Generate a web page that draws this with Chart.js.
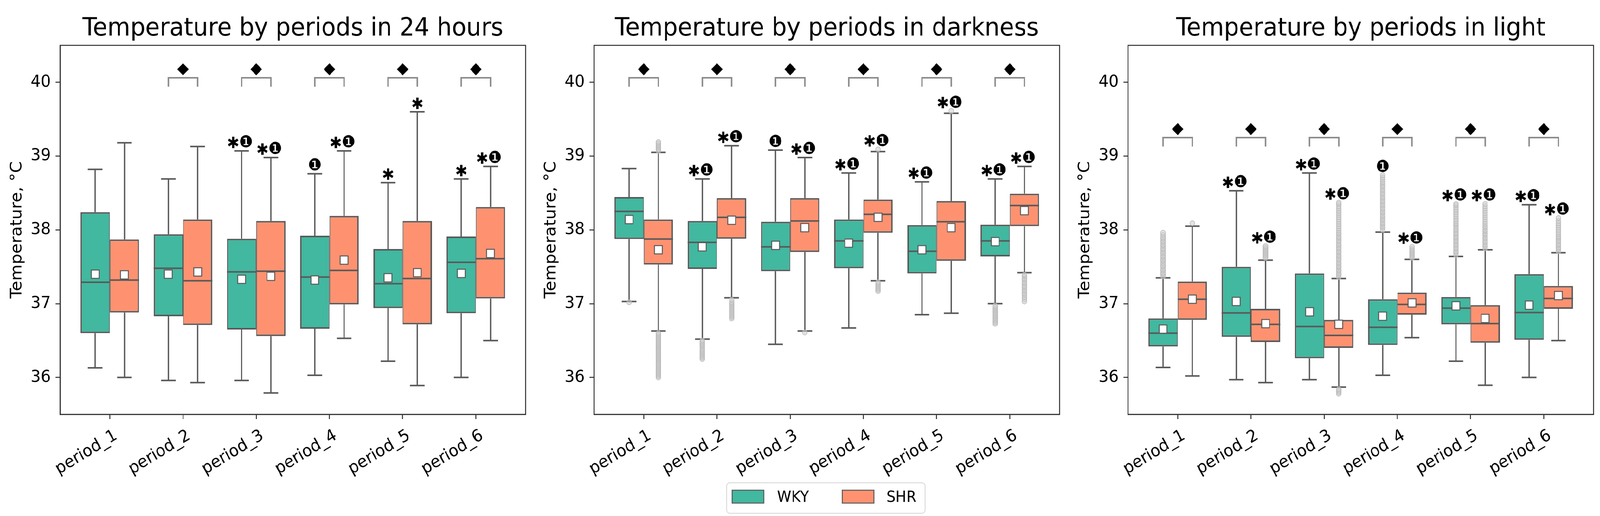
<!DOCTYPE html>
<html><head><meta charset="utf-8">
<script src="https://cdn.jsdelivr.net/npm/chart.js@4.4.1/dist/chart.umd.min.js"></script>
<style>
html,body{margin:0;padding:0;background:#fff;overflow:hidden;}
#wrap{position:relative;width:4345px;height:1320px;overflow:hidden;background:#fff;transform-origin:0 0;}
.pc{position:absolute;top:0;width:1445px;height:1320px}
</style></head><body>
<div id="wrap">
<div class="pc" style="left:0px"><canvas id="c1" width="1445" height="1320"></canvas></div>
<div class="pc" style="left:1450px"><canvas id="c2" width="1445" height="1320"></canvas></div>
<div class="pc" style="left:2900px"><canvas id="c3" width="1445" height="1320"></canvas></div>
</div>
<script>
// ---------- data ----------
const categories = ['period_1','period_2','period_3','period_4','period_5','period_6'];
const yTicks = [36, 37, 38, 39, 40];
const groupNames = ['WKY', 'SHR'];
const titles = ['Temperature by periods in 24 hours', 'Temperature by periods in darkness', 'Temperature by periods in light'];

// 24 hours
const h24_wky_low  = [36.13, 35.96, 35.96, 36.03, 36.22, 36.00];
const h24_wky_q1   = [36.60, 36.83, 36.65, 36.66, 36.94, 36.87];
const h24_wky_med  = [37.29, 37.48, 37.43, 37.36, 37.27, 37.56];
const h24_wky_q3   = [38.24, 37.94, 37.88, 37.92, 37.74, 37.91];
const h24_wky_high = [38.82, 38.69, 39.07, 38.76, 38.64, 38.69];
const h24_wky_mean = [37.40, 37.40, 37.33, 37.32, 37.35, 37.41];
const h24_shr_low  = [36.00, 35.93, 35.79, 36.53, 35.89, 36.50];
const h24_shr_q1   = [36.88, 36.71, 36.56, 36.99, 36.72, 37.07];
const h24_shr_med  = [37.32, 37.31, 37.44, 37.45, 37.34, 37.61];
const h24_shr_q3   = [37.87, 38.14, 38.12, 38.19, 38.12, 38.31];
const h24_shr_high = [39.18, 39.13, 38.98, 39.07, 39.60, 38.86];
const h24_shr_mean = [37.39, 37.43, 37.37, 37.59, 37.42, 37.68];
const h24_wky_out  = [[], [], [], [], [], []];
const h24_shr_out  = [[], [], [], [], [], []];
const h24_wky_sig  = ['', '', '✱❶', '❶', '✱', '✱'];
const h24_shr_sig  = ['', '', '✱❶', '✱❶', '✱', '✱❶'];
const h24_diff     = [false, true, true, true, true, true];
const h24_bracket  = 40.06;

// darkness
const dark_wky_low  = [37.03, 36.52, 36.45, 36.67, 36.85, 37.00];
const dark_wky_q1   = [37.875, 37.47, 37.44, 37.48, 37.41, 37.64];
const dark_wky_med  = [38.25, 37.83, 37.77, 37.85, 37.71, 37.85];
const dark_wky_q3   = [38.445, 38.12, 38.11, 38.14, 38.065, 38.07];
const dark_wky_high = [38.83, 38.69, 39.08, 38.77, 38.65, 38.69];
const dark_wky_mean = [38.14, 37.77, 37.79, 37.82, 37.73, 37.84];
const dark_shr_low  = [36.63, 37.08, 36.63, 37.31, 36.87, 37.42];
const dark_shr_q1   = [37.53, 37.88, 37.70, 37.96, 37.58, 38.05];
const dark_shr_med  = [37.875, 38.17, 38.12, 38.21, 38.11, 38.33];
const dark_shr_q3   = [38.14, 38.43, 38.43, 38.41, 38.39, 38.49];
const dark_shr_high = [39.05, 39.14, 38.98, 39.06, 39.58, 38.86];
const dark_shr_mean = [37.73, 38.13, 38.03, 38.17, 38.03, 38.26];
const dark_wky_out  = [
  [37.02],
  [36.25, 36.27, 36.29, 36.31, 36.33, 36.35, 36.37, 36.39, 36.42, 36.44, 36.46, 36.48, 36.50],
  [], [], [],
  [36.73, 36.75, 36.77, 36.79, 36.81, 36.83, 36.85, 36.87, 36.89, 36.91, 36.93, 36.95, 36.97]
];
const dark_shr_out  = [
  [39.07, 39.09, 39.11, 39.13, 39.15, 39.17, 39.19,
   36.00, 36.02, 36.04, 36.06, 36.08, 36.10, 36.12, 36.14, 36.16, 36.18, 36.20, 36.22, 36.24, 36.26, 36.28,
   36.30, 36.32, 36.34, 36.36, 36.38, 36.40, 36.42, 36.44, 36.46, 36.48, 36.50, 36.52, 36.54, 36.56, 36.58, 36.60],
  [36.80, 36.82, 36.84, 36.86, 36.88, 36.90, 36.92, 36.94, 36.96, 36.98, 37.00, 37.02, 37.05],
  [36.61],
  [39.09, 37.17, 37.19, 37.21, 37.23, 37.25, 37.27, 37.29],
  [39.61],
  [37.03, 37.06, 37.09, 37.12, 37.14, 37.17, 37.19, 37.22, 37.24, 37.27, 37.29, 37.32, 37.34, 37.37, 37.39]
];
const dark_wky_sig  = ['', '✱❶', '❶', '✱❶', '✱❶', '✱❶'];
const dark_shr_sig  = ['', '✱❶', '✱❶', '✱❶', '✱❶', '✱❶'];
const dark_diff     = [true, true, true, true, true, true];
const dark_bracket  = 40.06;

// light
const light_wky_low  = [36.135, 35.97, 35.97, 36.03, 36.22, 36.00];
const light_wky_q1   = [36.42, 36.55, 36.26, 36.44, 36.72, 36.51];
const light_wky_med  = [36.60, 36.875, 36.69, 36.68, 36.94, 36.88];
const light_wky_q3   = [36.80, 37.50, 37.41, 37.06, 37.09, 37.40];
const light_wky_high = [37.35, 38.53, 38.77, 37.97, 37.64, 38.34];
const light_wky_mean = [36.655, 37.03, 36.89, 36.83, 36.97, 36.98];
const light_shr_low  = [36.02, 35.93, 35.87, 36.54, 35.895, 36.50];
const light_shr_q1   = [36.78, 36.48, 36.40, 36.85, 36.47, 36.93];
const light_shr_med  = [37.06, 36.72, 36.57, 36.99, 36.73, 37.07];
const light_shr_q3   = [37.30, 36.93, 36.78, 37.15, 36.98, 37.24];
const light_shr_high = [38.05, 37.59, 37.34, 37.60, 37.73, 37.69];
const light_shr_mean = [37.06, 36.73, 36.72, 37.01, 36.80, 37.11];
const light_wky_out  = [
  [37.37, 37.40, 37.42, 37.45, 37.47, 37.50, 37.52, 37.55, 37.58, 37.60, 37.63, 37.65, 37.68, 37.70,
   37.73, 37.75, 37.78, 37.80, 37.83, 37.85, 37.88, 37.90, 37.93, 37.96],
  [], [],
  [38.00, 38.03, 38.05, 38.08, 38.10, 38.13, 38.15, 38.18, 38.20, 38.23, 38.25, 38.28, 38.30, 38.33, 38.35,
   38.38, 38.40, 38.43, 38.45, 38.48, 38.50, 38.53, 38.55, 38.58, 38.60, 38.63, 38.65, 38.68, 38.71, 38.74],
  [37.66, 37.69, 37.71, 37.74, 37.76, 37.79, 37.81, 37.84, 37.86, 37.89, 37.91, 37.94, 37.96, 37.99,
   38.01, 38.04, 38.07, 38.09, 38.12, 38.15, 38.18, 38.21, 38.24, 38.27, 38.30, 38.33, 38.35],
  []
];
const light_shr_out  = [
  [38.09],
  [37.62, 37.64, 37.66, 37.68, 37.70, 37.72, 37.74, 37.76, 37.78],
  [37.36, 37.39, 37.41, 37.44, 37.46, 37.49, 37.51, 37.54, 37.56, 37.59, 37.61, 37.64, 37.66, 37.69, 37.71,
   37.74, 37.76, 37.79, 37.81, 37.84, 37.86, 37.89, 37.91, 37.94, 37.96, 37.99, 38.02, 38.05, 38.08, 38.11,
   38.14, 38.17, 38.20, 38.23, 38.26, 38.29, 38.32, 38.35, 38.37,
   35.78, 35.80, 35.82, 35.84],
  [37.62, 37.64, 37.66, 37.68, 37.70, 37.72, 37.74, 37.77],
  [37.75, 37.78, 37.80, 37.83, 37.85, 37.88, 37.90, 37.93, 37.95, 37.98, 38.00, 38.03, 38.05, 38.08,
   38.11, 38.14, 38.17, 38.20, 38.23, 38.26, 38.29, 38.32, 38.35],
  [37.71, 37.74, 37.76, 37.79, 37.81, 37.84, 37.86, 37.89, 37.91, 37.94, 37.97, 38.00, 38.03, 38.06, 38.09, 38.12, 38.16]
];
const light_wky_sig  = ['', '✱❶', '✱❶', '❶', '✱❶', '✱❶'];
const light_shr_sig  = ['', '✱❶', '✱❶', '✱❶', '✱❶', '✱❶'];
const light_diff     = [true, true, true, true, true, true];
const light_bracket  = 39.25;

// ---------- fit page to the actual viewport ----------
(function () {
  const w = window.innerWidth || 4345, h = window.innerHeight || 1320;
  const sx = w / 4345, sy = h / 1320;
  if (Math.abs(sx - 1) > 0.002 || Math.abs(sy - 1) > 0.002)
    document.getElementById('wrap').style.transform = 'scale(' + sx + ',' + sy + ')';
})();

// ---------- styles ----------
const FONT = 'DejaVu Sans';
const COLORS = ['#41b89f', '#fe9270'];
const EDGE = '#595959';
const SPINE = '#2b2b2b';
const BRACKET = '#8c8c8c';
const groupOffset = [-0.2, 0.2];

Chart.defaults.font.family = FONT;
Chart.defaults.color = '#000';

// draw one glyph with its ink box centred at (cx, cy), ink width ~ targetW
function drawGlyph(ctx, ch, cx, cy, targetW) {
  ctx.font = '40px "' + FONT + '"';
  let m = ctx.measureText(ch);
  let inkW = (m.actualBoundingBoxLeft + m.actualBoundingBoxRight) || 30;
  const size = 40 * targetW / inkW;
  ctx.font = size.toFixed(2) + 'px "' + FONT + '"';
  m = ctx.measureText(ch);
  const l = m.actualBoundingBoxLeft, r = m.actualBoundingBoxRight;
  const a = m.actualBoundingBoxAscent, d = m.actualBoundingBoxDescent;
  ctx.textAlign = 'left'; ctx.textBaseline = 'alphabetic';
  ctx.fillText(ch, cx - (r - l) / 2, cy + (a - d) / 2);
}

function drawSig(ctx, text, cx, py) {
  const STAR_W = 29, ONE_W = 33, GAP = 4;
  const hasStar = text.indexOf('✱') >= 0, hasOne = text.indexOf('❶') >= 0;
  if (hasStar && hasOne) {
    const total = STAR_W + GAP + ONE_W;
    const left = cx - 4.5 - total / 2;
    drawGlyph(ctx, '✱', left + STAR_W / 2, py - 22, STAR_W);
    drawGlyph(ctx, '❶', left + STAR_W + GAP + ONE_W / 2, py - 24, ONE_W);
  } else if (hasStar) {
    drawGlyph(ctx, '✱', cx, py - 22, STAR_W);
  } else if (hasOne) {
    drawGlyph(ctx, '❶', cx, py - 24, ONE_W);
  }
}

const extras = {
  id: 'boxExtras',
  afterDatasetDraw(chart, args) {
    const ds = chart.data.datasets[args.index];
    if (!ds.stats) return;
    const ctx = chart.ctx, ys = chart.scales.y;
    const s = ds.stats;
    const L = (x1, y1, x2, y2) => { ctx.beginPath(); ctx.moveTo(x1, y1); ctx.lineTo(x2, y2); ctx.stroke(); };
    ctx.save();
    ctx.strokeStyle = EDGE;
    args.meta.data.forEach((bar, i) => {
      const cx = bar.x, hw = bar.width / 2;
      const pHi = ys.getPixelForValue(s.high[i]), pLo = ys.getPixelForValue(s.low[i]);
      const pQ1 = ys.getPixelForValue(s.q1[i]), pQ3 = ys.getPixelForValue(s.q3[i]);
      const pMed = ys.getPixelForValue(s.med[i]);
      ctx.lineWidth = 3.5;
      L(cx, pQ3, cx, pHi);
      L(cx, pQ1, cx, pLo);
      ctx.lineWidth = 4;
      L(cx - hw / 2, pHi, cx + hw / 2, pHi);
      L(cx - hw / 2, pLo, cx + hw / 2, pLo);
      L(cx - hw, pMed, cx + hw, pMed);
    });
    ctx.restore();
  },
  afterDraw(chart) {
    const ctx = chart.ctx, ca = chart.chartArea, ys = chart.scales.y;
    const cfg = chart.options.plugins.boxExtras;
    ctx.save();
    // spines
    ctx.strokeStyle = SPINE; ctx.lineWidth = 2.5;
    ctx.strokeRect(ca.left, ca.top, ca.right - ca.left, ca.bottom - ca.top);
    // brackets
    const m0 = chart.getDatasetMeta(0), m1 = chart.getDatasetMeta(1);
    ctx.strokeStyle = BRACKET; ctx.lineWidth = 4; ctx.lineJoin = 'miter';
    cfg.diff.forEach((d, i) => {
      if (!d) return;
      const x1 = m0.data[i].x, x2 = m1.data[i].x;
      const yt = ys.getPixelForValue(cfg.bracket), yb = ys.getPixelForValue(cfg.bracket - 0.12);
      ctx.beginPath(); ctx.moveTo(x1, yb); ctx.lineTo(x1, yt); ctx.lineTo(x2, yt); ctx.lineTo(x2, yb); ctx.stroke();
    });
    // significance marks
    ctx.fillStyle = '#000';
    [m0, m1].forEach((m, g) => {
      const ds = chart.data.datasets[g];
      ds.sig.forEach((t, i) => {
        if (!t) return;
        const top = Math.max(ds.stats.high[i], ...ds.outliers[i]);
        drawSig(ctx, t, m.data[i].x, ys.getPixelForValue(top));
      });
    });
    // legend (drawn under the middle panel)
    if (cfg.legend) {
      const cx = (ca.left + ca.right) / 2;
      const x0 = cx - 272, x1 = cx + 267, y0 = 1235, y1 = 1313;
      ctx.fillStyle = 'rgba(255,255,255,0.85)';
      ctx.strokeStyle = '#d4d4d4'; ctx.lineWidth = 2;
      ctx.beginPath(); ctx.roundRect(x0, y0, x1 - x0, y1 - y0, 8); ctx.fill(); ctx.stroke();
      const entries = [{ px: cx - 257, tx: cx - 135 }, { px: cx + 42, tx: cx + 162 }];
      entries.forEach((e, k) => {
        const ds = chart.data.datasets[k];
        ctx.fillStyle = ds.backgroundColor; ctx.strokeStyle = EDGE; ctx.lineWidth = 2.5;
        ctx.fillRect(e.px, 1254, 86, 33); ctx.strokeRect(e.px, 1254, 86, 33);
        ctx.fillStyle = '#000'; ctx.font = '39px "' + FONT + '"';
        ctx.textAlign = 'left'; ctx.textBaseline = 'alphabetic';
        ctx.fillText(ds.label, e.tx, 1284);
      });
    }
    ctx.restore();
  }
};

function buildChart(canvasId, title, g, diff, bracket, showLegend) {
  const datasets = [];
  g.forEach((s, k) => {
    datasets.push({
      type: 'bar', label: groupNames[k],
      data: categories.map((c, i) => ({ x: i, y: [s.q1[i], s.q3[i]] })),
      backgroundColor: COLORS[k], borderColor: EDGE,
      borderWidth: k === 0 ? { left: 4, right: 2, top: 4, bottom: 4 } : { left: 2, right: 4, top: 4, bottom: 4 },
      borderSkipped: false, categoryPercentage: 0.8, barPercentage: 1.0,
      order: 5, stats: s, sig: s.sig, outliers: s.out
    });
  });
  g.forEach((s, k) => {
    const pts = [];
    s.out.forEach((vals, i) => vals.forEach(v => pts.push({ x: i + groupOffset[k], y: v })));
    datasets.push({
      type: 'scatter', label: groupNames[k] + ' outliers', data: pts,
      pointStyle: 'circle', pointRadius: 6.5, pointBackgroundColor: 'rgba(205,205,205,0.55)',
      pointBorderColor: '#b8b8b8', pointBorderWidth: 1.5, order: 3
    });
  });
  const meanPts = [];
  g.forEach((s, k) => s.mean.forEach((v, i) => meanPts.push({ x: i + groupOffset[k], y: v })));
  datasets.push({
    type: 'scatter', label: 'mean', data: meanPts, pointStyle: 'rect', pointRadius: 15,
    pointBackgroundColor: '#ffffff', pointBorderColor: EDGE, pointBorderWidth: 2.5, order: 1
  });
  const diaPts = [];
  diff.forEach((d, i) => { if (d) diaPts.push({ x: i, y: bracket + 0.115 }); });
  datasets.push({
    type: 'scatter', label: 'diff', data: diaPts, pointStyle: 'rectRot', pointRadius: 15.5,
    pointBackgroundColor: '#000', pointBorderColor: '#000', pointBorderWidth: 0, order: 1
  });

  return new Chart(document.getElementById(canvasId), {
    type: 'bar',
    data: { datasets },
    options: {
      responsive: false, animation: false, devicePixelRatio: 1, events: [],
      layout: { padding: { left: 0, right: 11, top: 0, bottom: 0 } },
      plugins: {
        tooltip: { enabled: false },
        legend: { display: false },
        title: {
          display: true, text: title, color: '#000', fullSize: false,
          font: { family: FONT, size: 64, weight: 'normal', lineHeight: 1.2 },
          padding: { top: 36, bottom: 3.2 }
        },
        boxExtras: { diff, bracket, legend: showLegend }
      },
      scales: {
        x: {
          type: 'linear', min: -0.68, max: 5.68, offset: false,
          afterBuildTicks: ax => { ax.ticks = categories.map((c, i) => ({ value: i })); },
          afterFit: ax => { ax.height = 260; },
          ticks: {
            callback: v => categories[v], autoSkip: false, minRotation: 30, maxRotation: 30,
            padding: 17, labelOffset: 17, color: '#000', font: { family: FONT, size: 43 }
          },
          grid: { display: true, drawOnChartArea: false, drawTicks: true, tickLength: 12, color: SPINE, lineWidth: 2.5, offset: false },
          border: { display: true, color: SPINE, width: 2.5 }
        },
        y: {
          type: 'linear', min: 35.5, max: 40.5,
          afterBuildTicks: ax => { ax.ticks = yTicks.map(v => ({ value: v })); },
          afterFit: ax => { ax.width = 163; },
          ticks: { callback: v => String(v), padding: 13, color: '#000', font: { family: FONT, size: 43 } },
          grid: { display: true, drawOnChartArea: false, drawTicks: true, tickLength: 12, color: SPINE, lineWidth: 2.5 },
          border: { display: true, color: SPINE, width: 2.5 },
          title: {
            display: true, text: 'Temperature, °C', color: '#000',
            font: { family: FONT, size: 43, lineHeight: 1.2 }, padding: { top: 21, bottom: 0 }
          }
        }
      }
    },
    plugins: [extras]
  });
}

const g24 = [
  { low: h24_wky_low, q1: h24_wky_q1, med: h24_wky_med, q3: h24_wky_q3, high: h24_wky_high, mean: h24_wky_mean, out: h24_wky_out, sig: h24_wky_sig },
  { low: h24_shr_low, q1: h24_shr_q1, med: h24_shr_med, q3: h24_shr_q3, high: h24_shr_high, mean: h24_shr_mean, out: h24_shr_out, sig: h24_shr_sig }
];
const gDark = [
  { low: dark_wky_low, q1: dark_wky_q1, med: dark_wky_med, q3: dark_wky_q3, high: dark_wky_high, mean: dark_wky_mean, out: dark_wky_out, sig: dark_wky_sig },
  { low: dark_shr_low, q1: dark_shr_q1, med: dark_shr_med, q3: dark_shr_q3, high: dark_shr_high, mean: dark_shr_mean, out: dark_shr_out, sig: dark_shr_sig }
];
const gLight = [
  { low: light_wky_low, q1: light_wky_q1, med: light_wky_med, q3: light_wky_q3, high: light_wky_high, mean: light_wky_mean, out: light_wky_out, sig: light_wky_sig },
  { low: light_shr_low, q1: light_shr_q1, med: light_shr_med, q3: light_shr_q3, high: light_shr_high, mean: light_shr_mean, out: light_shr_out, sig: light_shr_sig }
];

buildChart('c1', titles[0], g24, h24_diff, h24_bracket, false);
buildChart('c2', titles[1], gDark, dark_diff, dark_bracket, true);
buildChart('c3', titles[2], gLight, light_diff, light_bracket, false);
</script>
</body></html>
